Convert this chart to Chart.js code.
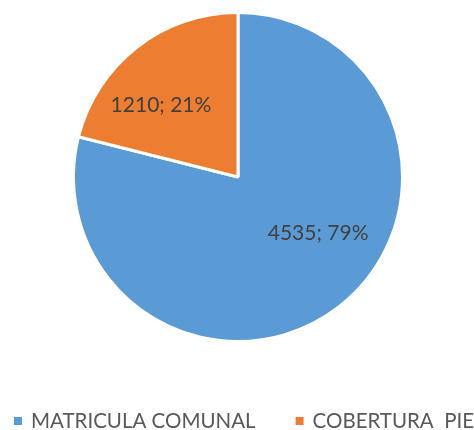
<!DOCTYPE html>
<html>
<head>
<meta charset="utf-8">
<script src="https://cdn.jsdelivr.net/npm/chart.js@4.4.0/dist/chart.umd.min.js"></script>
<style>
  html, body { margin: 0; padding: 0; background: #fff; }
  #wrap { width: 474px; height: 430px; }
</style>
</head>
<body>
<div id="wrap"><canvas id="pie" width="474" height="430"></canvas></div>
<script>
const categories = ['MATRICULA COMUNAL', 'COBERTURA  PIE'];
const values = [4535, 1210];
const percents = ['79%', '21%'];
const colors = ['#5B9BD5', '#ED7D31'];

// where each label sits inside its slice: fraction along the arc, fraction of radius
const labelSpots = [[0.44, 0.595], [0.38, 0.64]];

const sliceLabels = {
  id: 'sliceLabels',
  afterDatasetsDraw(chart) {
    const ctx = chart.ctx;
    const arcs = chart.getDatasetMeta(0).data;
    ctx.save();
    ctx.font = '21px Lato, "Liberation Sans", sans-serif';
    ctx.fillStyle = '#404040';
    ctx.textAlign = 'center';
    ctx.textBaseline = 'middle';
    arcs.forEach((arc, i) => {
      const p = arc.getProps(['x', 'y', 'startAngle', 'endAngle', 'outerRadius']);
      const a = p.startAngle + (p.endAngle - p.startAngle) * labelSpots[i][0];
      const r = p.outerRadius * labelSpots[i][1];
      ctx.fillText(values[i] + '; ' + percents[i], p.x + Math.cos(a) * r, p.y + Math.sin(a) * r);
    });
    ctx.restore();
  }
};

// bottom legend, Excel style
const bottomLegend = {
  id: 'bottomLegend',
  afterDraw(chart) {
    const ctx = chart.ctx;
    ctx.save();
    ctx.font = '20.5px Lato, "Liberation Sans", sans-serif';
    ctx.textBaseline = 'middle';
    let x = 14;
    const y = 421;
    categories.forEach((c, i) => {
      ctx.fillStyle = colors[i];
      ctx.fillRect(x, y - 4, 8, 8);
      ctx.fillStyle = '#595959';
      ctx.fillText(c, x + 17, y);
      x += 17 + ctx.measureText(c).width + 40;
    });
    ctx.restore();
  }
};

new Chart(document.getElementById('pie'), {
  type: 'pie',
  data: {
    labels: categories,
    datasets: [{
      data: values,
      backgroundColor: colors,
      borderColor: '#ffffff',
      borderWidth: 3
    }]
  },
  options: {
    responsive: false,
    animation: false,
    layout: { padding: { left: 72, right: 70, top: 11, bottom: 87 } },
    plugins: {
      legend: { display: false },
      tooltip: { enabled: false }
    }
  },
  plugins: [sliceLabels, bottomLegend]
});
</script>
</body>
</html>
